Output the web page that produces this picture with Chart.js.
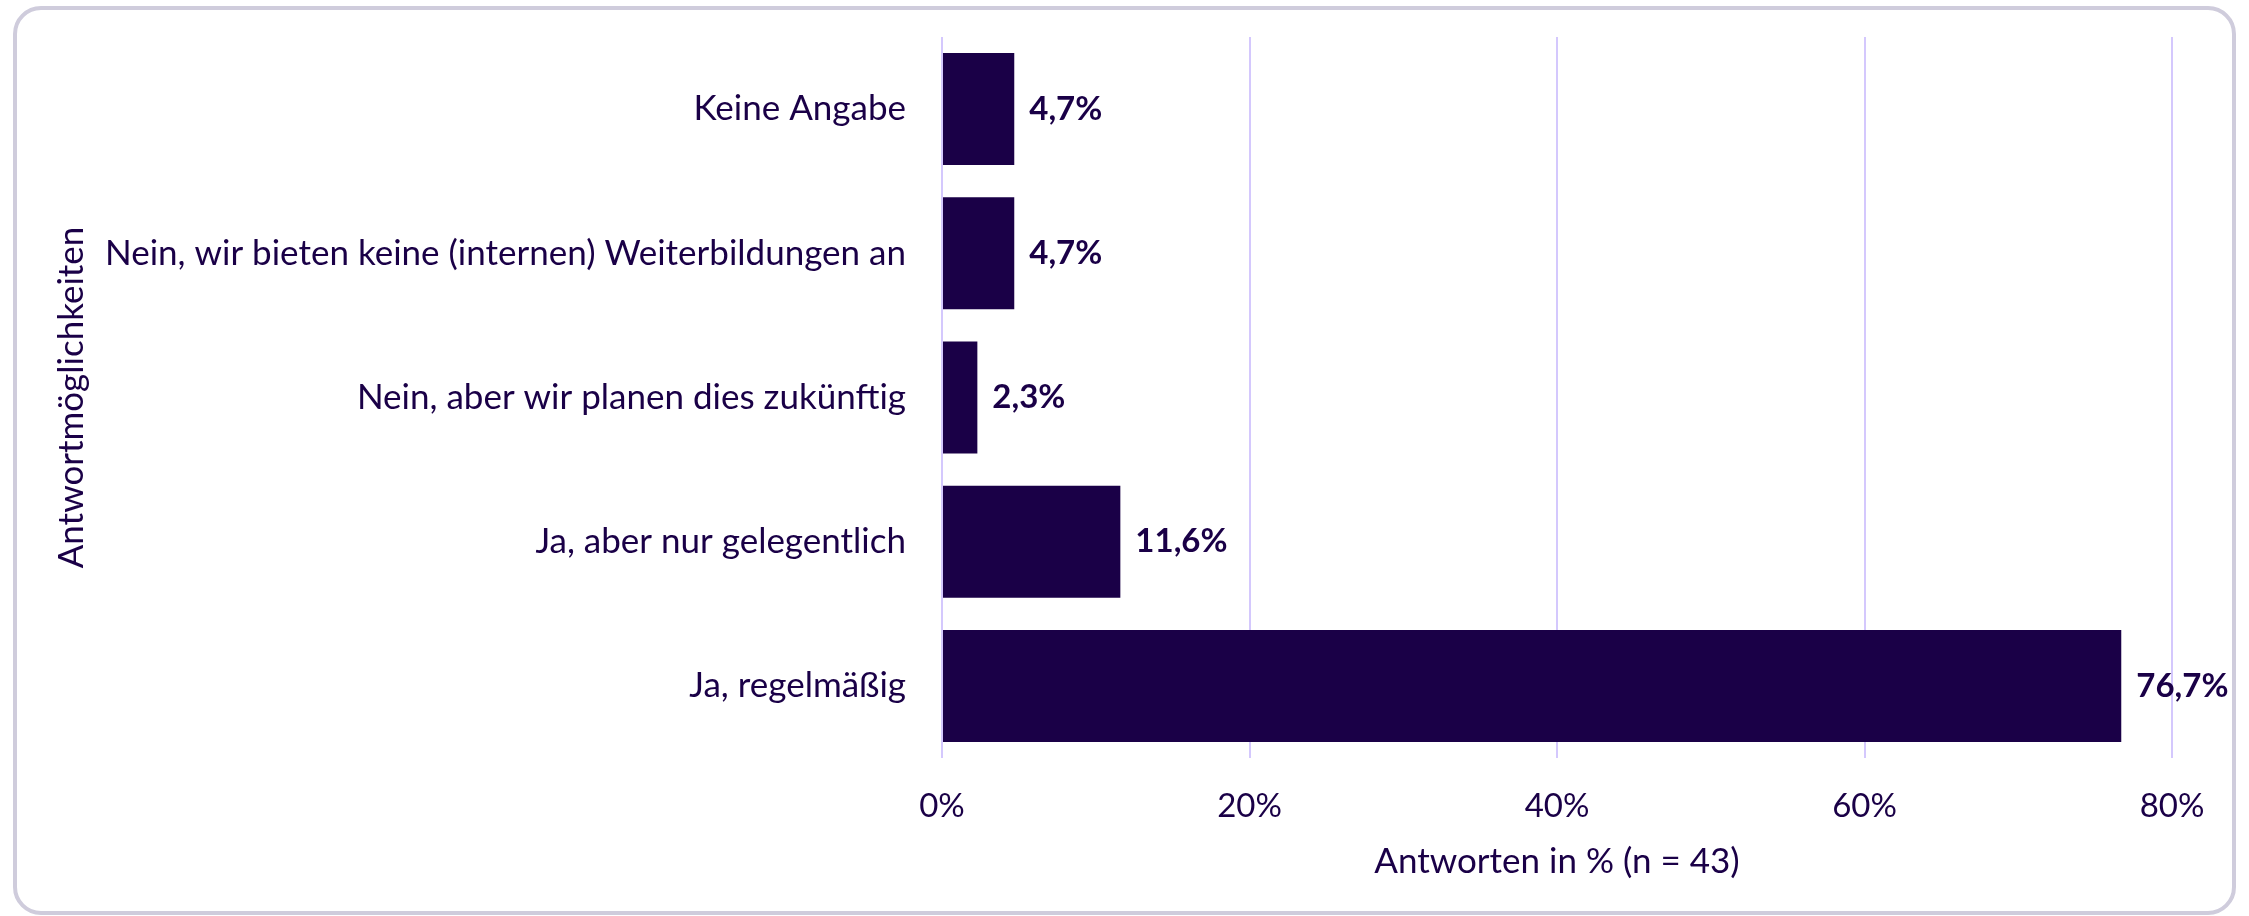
<!DOCTYPE html>
<html>
<head>
<meta charset="utf-8">
<script src="https://cdn.jsdelivr.net/npm/chart.js@4/dist/chart.umd.min.js"></script>
<style>
    body { margin: 0; background: #fff; }
    #wrap { position: relative; width: 2249px; height: 916px; }
    #frame {
        position: absolute; left: 13px; top: 6px; width: 2215px; height: 901px;
        border: 4px solid #cfccdc; border-radius: 28px; pointer-events: none;
    }
</style>
</head>
<body>
<div id="wrap">
    <canvas id="chart" width="2249" height="916"></canvas>
    <div id="frame"></div>
</div>
<script>
const categories = [
    'Keine Angabe',
    'Nein, wir bieten keine (internen) Weiterbildungen an',
    'Nein, aber wir planen dies zukünftig',
    'Ja, aber nur gelegentlich',
    'Ja, regelmäßig'
];
const values = [4.7, 4.7, 2.3, 11.6, 76.7];
const tickValues = [0, 20, 40, 60, 80];

const ink = '#1a0047';
const fontFamily = 'Lato, "Open Sans", sans-serif';

// values drawn to the right of each bar
const valueLabels = {
    id: 'valueLabels',
    afterDatasetsDraw(chart) {
        const ctx = chart.ctx;
        const meta = chart.getDatasetMeta(0);
        ctx.save();
        ctx.fillStyle = ink;
        ctx.font = 'bold 33px ' + fontFamily;
        ctx.textAlign = 'left';
        ctx.textBaseline = 'middle';
        meta.data.forEach((bar, i) => {
            const txt = values[i].toFixed(1).replace('.', ',') + '%';
            ctx.fillText(txt, bar.x + 15, bar.y);
        });
        ctx.restore();
    }
};

new Chart(document.getElementById('chart'), {
    type: 'bar',
    data: {
        labels: categories,
        datasets: [{
            data: values,
            backgroundColor: ink,
            categoryPercentage: 1,
            barPercentage: 0.777
        }]
    },
    options: {
        indexAxis: 'y',
        responsive: false,
        animation: false,
        layout: { padding: { left: 30, top: 37, right: 77, bottom: 20 } },
        plugins: {
            legend: { display: false },
            tooltip: { enabled: false }
        },
        scales: {
            x: {
                min: 0,
                max: 80,
                afterBuildTicks: (scale) => { scale.ticks = tickValues.map(v => ({ value: v })); },
                afterFit: (scale) => { scale.height = 138; },
                grid: { color: '#d4c8fd', lineWidth: 2, drawTicks: false },
                border: { display: false },
                ticks: {
                    padding: 29,
                    color: ink,
                    font: { family: fontFamily, size: 33 },
                    callback: (v) => v + '%'
                },
                title: {
                    display: true,
                    text: 'Antworten in % (n = 43)',
                    color: ink,
                    font: { family: fontFamily, size: 35 },
                    padding: { top: 0, bottom: 13 }
                }
            },
            y: {
                afterFit: (scale) => {
                    scale.width = 912;
                    scale.paddingTop = 0;
                    scale.paddingBottom = 0;
                },
                grid: { display: false, drawTicks: false },
                border: { display: false },
                ticks: {
                    padding: 36,
                    color: ink,
                    font: { family: fontFamily, size: 35 }
                },
                title: {
                    display: true,
                    text: 'Antwortmöglichkeiten',
                    color: ink,
                    font: { family: fontFamily, size: 35 },
                    padding: { top: 21, bottom: 0 }
                }
            }
        }
    },
    plugins: [valueLabels]
});
</script>
</body>
</html>
